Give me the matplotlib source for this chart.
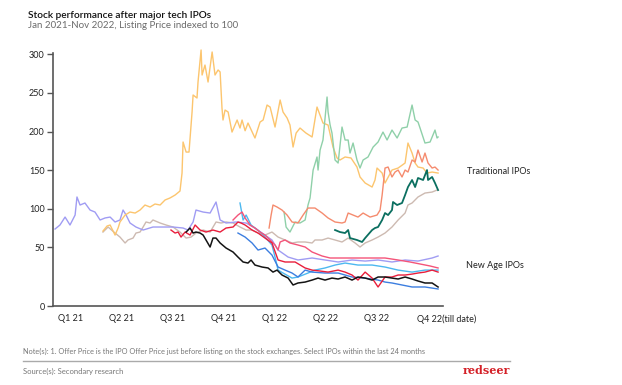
import numpy as np
import matplotlib.pyplot as plt
from matplotlib.lines import Line2D

plt.rcParams.update({
    'font.family': ['Lato', 'DejaVu Sans'],
    'font.size': 7,
})

# x = months since 1 Jan 2021, y = price indexed to listing price (100)
quarter_labels = ['Q1 21', 'Q2 21', 'Q3 21', 'Q4 21', 'Q1 22', 'Q2 22', 'Q3 22', 'Q4 22(till date)']
quarter_pos = [0.9, 3.9, 6.9, 9.9, 12.9, 15.9, 18.9, 21.3]
y_ticks = [0, 50, 100, 150, 200, 250, 300]

# ---- Traditional IPOs ----
orange_x = [2.82, 3.06, 3.24, 3.53, 3.71, 3.82, 4.12, 4.41, 4.71, 5.0, 5.29, 5.59, 5.88, 6.18, 6.47, 6.76,
            7.06, 7.35, 7.47, 7.53, 7.71, 7.88, 8.06, 8.12, 8.35, 8.41, 8.59, 8.65, 8.82, 9.0, 9.24, 9.41,
            9.59, 9.71, 9.82, 9.88, 10.0, 10.18, 10.41, 10.71, 10.88, 11.0, 11.18, 11.35, 11.76, 12.06,
            12.24, 12.47, 12.65, 12.94, 13.24, 13.41, 13.65, 13.82, 14.0, 14.18, 14.41, 14.76, 15.12,
            15.41, 15.76, 16.06, 16.35, 16.59, 16.76, 17.06, 17.41, 17.76, 17.94, 18.24, 18.65, 18.82,
            18.94, 19.24, 19.41, 19.82, 20.18, 20.59, 20.76, 21.0, 21.18, 21.35, 21.65, 21.88, 22.18, 22.53]
orange_y = [71.1, 77.6, 78.9, 65.9, 75.0, 82.8, 91.8, 95.7, 94.4, 98.3, 104.8, 102.2, 106.1, 104.8, 111.3, 113.9,
            117.7, 122.9, 146.2, 186.4, 173.4, 173.4, 225.3, 247.3, 243.4, 264.1, 305.6, 273.2, 286.1, 264.1,
            303.0, 273.2, 279.7, 277.1, 230.4, 214.9, 227.8, 225.3, 199.3, 214.9, 204.5, 214.9, 201.0, 211.0,
            191.6, 212.3, 214.9, 234.3, 231.7, 205.8, 240.8, 225.3, 217.5, 208.4, 179.9, 198.0, 204.5, 198.0,
            192.9, 231.7, 211.0, 208.4, 179.9, 165.7, 163.1, 167.0, 165.7, 154.0, 141.1, 133.3, 128.1, 137.2,
            152.7, 146.2, 133.3, 150.1, 152.7, 159.2, 185.1, 172.1, 159.2, 154.0, 152.7, 146.2, 147.5, 146.2]

taupe_x = [2.82, 3.12, 3.53, 3.82, 4.12, 4.29, 4.59, 4.76, 5.0, 5.18, 5.35, 5.59, 5.76, 6.18, 6.53, 6.94, 7.35,
           7.71, 8.0, 8.29, 8.71, 9.12, 9.47, 9.76, 10.06, 10.47, 10.88, 11.24, 11.59, 11.94, 12.35, 12.76,
           13.12, 13.53, 13.94, 14.29, 14.71, 15.12, 15.29, 15.71, 16.06, 16.47, 16.88, 17.24, 17.65, 17.94,
           18.24, 18.65, 19.0, 19.41, 19.82, 20.18, 20.59, 20.76, 21.0, 21.35, 21.76, 22.18, 22.47]
taupe_y = [69.8, 76.3, 68.5, 63.3, 55.6, 59.5, 62.0, 68.5, 69.8, 76.3, 82.8, 81.5, 85.4, 81.5, 78.9, 76.3, 69.8,
           62.0, 63.3, 68.5, 72.4, 69.8, 82.8, 81.5, 82.8, 81.5, 76.3, 72.4, 72.4, 68.5, 65.9, 69.8,
           63.3, 59.5, 55.6, 56.9, 56.9, 55.6, 59.5, 59.5, 62.0, 59.5, 56.9, 62.0, 55.6, 50.4,
           55.6, 59.5, 63.3, 68.5, 76.3, 85.4, 94.4, 104.8, 107.4, 115.2, 120.3, 121.6, 124.2]

green_x = [13.47, 13.59, 13.82, 14.12, 14.41, 14.71, 14.88, 15.0, 15.18, 15.41, 15.47, 15.59, 15.76, 16.0, 16.06,
           16.18, 16.29, 16.47, 16.65, 16.88, 17.06, 17.24, 17.35, 17.53, 17.76, 17.94, 18.12, 18.41, 18.71,
           19.0, 19.29, 19.53, 19.82, 20.12, 20.41, 20.71, 21.0, 21.18, 21.35, 21.47, 21.76, 22.06, 22.35,
           22.47, 22.53]
green_y = [95.7, 76.3, 69.8, 82.8, 81.5, 85.4, 104.8, 113.9, 150.1, 167.0, 150.1, 176.0, 189.0, 244.7, 225.3,
           208.4, 198.0, 163.1, 159.2, 205.8, 189.0, 189.0, 172.1, 185.1, 163.1, 152.7, 163.1, 167.0, 179.9,
           186.4, 199.3, 189.0, 201.9, 191.6, 204.5, 205.8, 234.3, 214.9, 212.3, 204.5, 185.1, 186.4, 201.9,
           191.6, 192.9]

salmon_x = [12.59, 12.71, 12.82, 13.06, 13.35, 13.65, 13.94, 14.29, 14.59, 14.88, 15.29, 15.71, 16.06, 16.47,
            16.88, 17.06, 17.24, 17.53, 17.82, 18.12, 18.53, 18.94, 19.12, 19.24, 19.41, 19.59, 19.82, 20.0,
            20.18, 20.41, 20.59, 20.76, 21.0, 21.18, 21.35, 21.59, 21.76, 21.94, 22.18, 22.35, 22.53]
salmon_y = [75.0, 91.8, 104.8, 102.2, 98.3, 91.8, 82.8, 81.5, 91.8, 100.9, 100.9, 94.4, 88.0, 82.8,
            81.5, 82.8, 94.4, 91.8, 89.2, 94.4, 89.2, 91.8, 98.3, 117.7, 152.7, 154.0, 141.1, 147.5,
            150.1, 141.1, 150.1, 147.5, 163.1, 160.5, 176.0, 160.5, 172.1, 159.2, 152.7, 154.0, 150.1]

teal_x = [16.47, 16.76, 17.06, 17.24, 17.35, 17.76, 18.06, 18.24, 18.65, 18.82, 19.0, 19.24, 19.41, 19.59, 19.82,
          19.88, 20.12, 20.41, 20.59, 20.76, 21.0, 21.18, 21.35, 21.65, 21.88, 21.94, 22.18, 22.35, 22.53]
teal_y = [72.4, 69.8, 68.5, 72.4, 62.0, 59.5, 56.9, 62.0, 72.4, 75.0, 76.3, 85.4, 94.4, 91.8, 98.3,
          108.7, 104.8, 107.4, 117.7, 128.1, 137.2, 128.1, 139.8, 137.2, 150.1, 137.2, 141.1, 133.3, 124.2]

# ---- New Age IPOs ----
purple_x = [0.0, 0.29, 0.59, 0.88, 1.18, 1.29, 1.47, 1.76, 2.06, 2.35, 2.65, 2.94, 3.24, 3.53, 3.82, 4.0, 4.18,
            4.41, 4.76, 5.18, 5.76, 6.35, 6.94, 7.53, 7.82, 8.12, 8.29, 8.71, 9.12, 9.47, 9.71, 10.06, 10.65,
            11.24, 11.76, 12.18, 12.76, 13.12, 13.71, 14.29, 15.12, 15.88, 16.65, 17.47, 18.24, 19.0, 19.82,
            20.59, 21.35, 22.18, 22.53]
purple_y = [73.7, 78.9, 89.2, 78.9, 91.8, 115.2, 104.8, 107.4, 98.3, 95.7, 85.4, 88.0, 89.2, 82.8, 85.4, 98.3, 91.8,
            81.5, 76.3, 72.4, 76.3, 76.3, 76.3, 75.0, 72.4, 82.8, 98.3, 95.7, 94.4, 108.7, 85.4, 81.5, 82.8,
            81.5, 75.0, 68.5, 59.5, 47.7, 41.7, 39.2, 40.9, 39.2, 37.5, 39.2, 38.3, 39.2, 37.5,
            39.2, 38.3, 40.9, 42.6]

black_x = [7.71, 7.94, 8.12, 8.29, 8.53, 8.71, 8.88, 9.12, 9.29, 9.47, 9.71, 10.06, 10.47, 10.76, 11.06, 11.35,
           11.53, 11.76, 12.18, 12.53, 12.82, 13.06, 13.35, 13.71, 14.0, 14.29, 14.71, 15.12, 15.47, 15.88,
           16.29, 16.65, 17.06, 17.47, 17.82, 18.24, 18.65, 19.0, 19.41, 19.82, 20.18, 20.59, 21.0, 21.35,
           21.76, 22.18, 22.53]
black_y = [69.8, 75.0, 68.5, 69.8, 68.5, 65.9, 59.5, 50.4, 62.0, 62.0, 55.6, 49.4, 46.0, 41.7, 37.5, 36.6,
           39.2, 34.9, 33.2, 32.4, 28.9, 30.6, 26.4, 23.8, 17.9, 19.6, 20.4, 22.1, 23.8, 22.1,
           23.8, 23.0, 24.7, 22.1, 24.7, 23.8, 22.1, 24.7, 24.7, 23.8, 23.0, 24.7, 23.0, 21.3,
           19.6, 19.6, 16.2]

red_x = [6.82, 7.06, 7.24, 7.41, 7.65, 7.94, 8.24, 8.53, 8.88, 9.29, 9.71, 10.06, 10.47, 10.76, 10.94, 11.18,
         11.59, 11.94, 12.35, 12.76, 13.12, 13.53, 14.12, 14.71, 15.12, 15.59, 16.06, 16.65, 17.06, 17.47,
         17.82, 18.24, 18.65, 19.0, 19.41, 19.82, 20.18, 20.59, 21.0, 21.35, 21.76, 22.18, 22.53]
red_y = [72.4, 68.5, 69.8, 63.3, 69.8, 65.9, 78.9, 72.4, 69.8, 72.4, 69.8, 75.0, 76.3, 82.8, 81.5, 78.9,
         72.4, 68.5, 62.0, 55.6, 39.2, 37.5, 37.5, 32.4, 30.6, 29.8, 28.9, 30.6, 28.9, 26.4,
         22.1, 28.9, 23.8, 16.2, 24.7, 24.7, 26.4, 26.4, 27.2, 28.1, 28.9, 30.6, 28.9]

pink_x = [10.47, 10.76, 11.0, 11.18, 11.47, 11.76, 12.06, 12.35, 12.65, 12.94, 13.12, 13.24, 13.53, 13.82, 14.29,
          14.71, 15.12, 15.71, 16.18, 17.06, 17.94, 18.65, 19.41, 20.18, 20.88, 21.47, 22.06, 22.53]
pink_y = [85.4, 91.8, 95.7, 88.0, 78.9, 75.0, 69.8, 65.9, 59.5, 53.0, 47.7, 56.9, 59.5, 55.6, 53.0,
          50.4, 46.0, 42.6, 40.9, 40.9, 40.9, 40.9, 40.9, 39.2, 37.5, 35.8, 34.1, 32.4]

lightblue_x = [10.88, 11.06, 11.24, 11.53, 11.76, 12.06, 12.35, 12.76, 12.94, 13.12, 13.41, 13.94, 14.29, 14.88,
               15.29, 15.88, 16.47, 17.06, 17.82, 18.65, 19.41, 20.18, 21.0, 21.76, 22.53]
lightblue_y = [107.4, 85.4, 91.8, 78.9, 75.0, 69.8, 63.3, 53.0, 41.7, 30.6, 28.1, 23.8, 24.7, 28.1,
               30.6, 32.4, 34.9, 36.6, 34.9, 34.9, 33.2, 30.6, 28.9, 30.6, 30.6]

blue_x = [10.76, 11.18, 11.59, 11.94, 12.35, 12.76, 13.12, 13.53, 13.94, 14.29, 14.71, 15.12, 15.88, 16.65, 17.06,
          17.47, 18.24, 19.0, 19.41, 19.82, 20.41, 21.0, 21.76, 22.53]
blue_y = [68.5, 63.3, 55.6, 47.7, 49.4, 43.4, 33.2, 30.6, 28.1, 24.7, 30.6, 28.9, 28.1, 28.1, 26.4,
          24.7, 23.8, 22.1, 20.4, 19.6, 17.9, 16.2, 16.2, 14.5]


# the chart's y axis stretches the 0-50 band
def fwd(v):
    v = np.asarray(v, dtype=float)
    return np.where(v >= 50, v, 50 - 1.52 * (50 - v))


def inv(f):
    f = np.asarray(f, dtype=float)
    return np.where(f >= 50, f, 50 - (50 - f) / 1.52)


fig = plt.figure(figsize=(6.22, 3.85), dpi=100)
ax = fig.add_axes([53 / 622, 79 / 385, 390 / 622, 253 / 385])
ax.set_yscale('function', functions=(fwd, inv))

series = [
    (taupe_x, taupe_y, '#cdbab1', 1.0),
    (purple_x, purple_y, '#a09cf3', 1.0),
    (orange_x, orange_y, '#fcc56e', 1.0),
    (green_x, green_y, '#8fd0a9', 1.0),
    (salmon_x, salmon_y, '#f58b6e', 1.0),
    (lightblue_x, lightblue_y, '#4cb8f0', 1.0),
    (blue_x, blue_y, '#3c7ee0', 1.0),
    (pink_x, pink_y, '#f45479', 1.0),
    (red_x, red_y, '#e91e3c', 1.0),
    (black_x, black_y, '#141414', 1.1),
    (teal_x, teal_y, '#0b6f60', 1.3),
]
for xs, ys, c, lw in series:
    ax.plot(xs, ys, color=c, lw=lw, clip_on=False, solid_joinstyle='round')

ax.set_xlim(-0.12, 22.82)
ax.set_ylim(0, 301.7)
ax.set_yticks(y_ticks)
ax.set_yticklabels([str(t) for t in y_ticks])
ax.set_xticks(quarter_pos)
ax.set_xticklabels(quarter_labels)
ax.get_xticklabels()[-1].set_ha('left')
ax.tick_params(axis='x', length=0, pad=6, labelsize=6.5, colors='#222222')
ax.tick_params(axis='y', length=4, width=1, pad=2, labelsize=6.5, colors='#222222')
ax.tick_params(axis='y', color='#555555')

for s in ['top', 'right']:
    ax.spines[s].set_visible(False)
for s in ['left', 'bottom']:
    ax.spines[s].set_color('#555555')
    ax.spines[s].set_linewidth(1.2)

# group labels
fig.text(467 / 622, 1 - 171 / 385, 'Traditional IPOs', fontsize=6.5, color='#222222', va='center')
fig.text(466 / 622, 1 - 266 / 385, 'New Age IPOs', fontsize=6.5, color='#222222', va='center')

# titles
fig.text(28 / 622, 1 - 15 / 385, 'Stock performance after major tech IPOs', fontsize=7.3,
         color='#111111', va='center', fontweight='semibold')
fig.text(28 / 622, 1 - 26 / 385, 'Jan 2021-Nov 2022, Listing Price indexed to 100', fontsize=7,
         color='#6b6b6b', va='center')

# footer
fig.text(23 / 622, 1 - 351 / 385,
         'Note(s): 1. Offer Price is the IPO Offer Price just before listing on the stock exchanges. '
         'Select IPOs within the last 24 months', fontsize=5.3, color='#777777', va='center')
fig.add_artist(Line2D([23 / 622, 510 / 622], [1 - 361 / 385, 1 - 361 / 385],
                      color='#aaaaaa', lw=1, transform=fig.transFigure))
fig.text(23 / 622, 1 - 371 / 385, 'Source(s): Secondary research', fontsize=5.5,
         color='#777777', va='center')
fig.text(510 / 622, 1 - 371 / 385, 'redseer', fontsize=8, color='#d42027', va='center',
         ha='right', family='DejaVu Serif', fontweight='bold')

fig.savefig('out.png', dpi=100, facecolor='white')
